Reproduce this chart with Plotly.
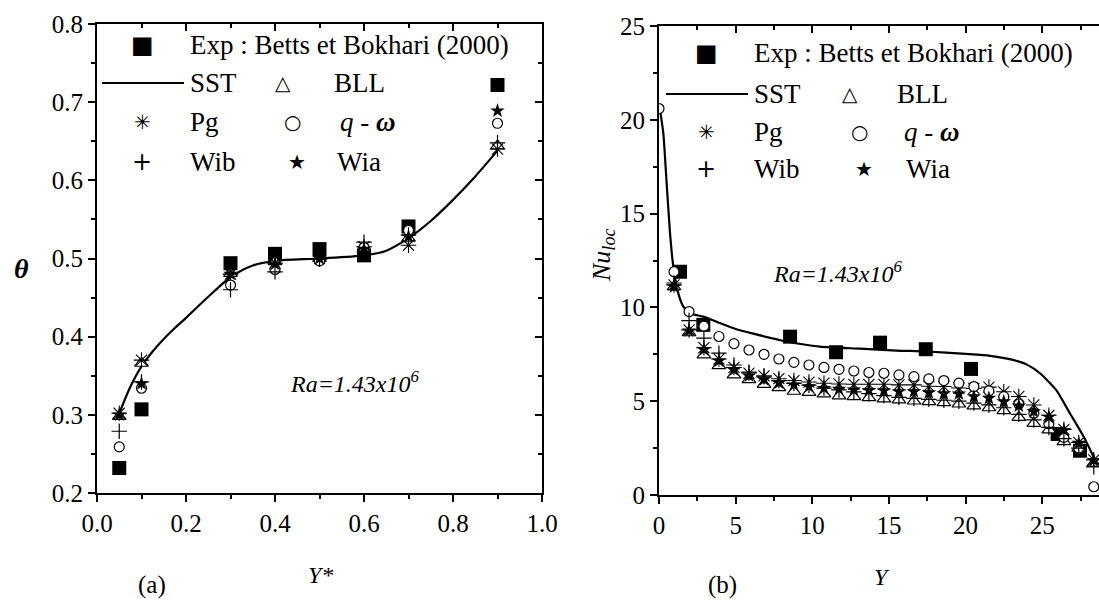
import plotly.graph_objects as go

# ---------------- Panel (a) data ----------------
ystar = [0.05, 0.1, 0.3, 0.4, 0.5, 0.6, 0.7, 0.9]
theta_exp = [0.232, 0.307, 0.494, 0.506, 0.512, 0.504, 0.541, 0.722]
theta_bll = [0.298, 0.366, 0.481, 0.496, 0.500, 0.512, 0.526, 0.644]
theta_pg = [0.302, 0.370, 0.480, 0.494, 0.500, 0.515, 0.517, 0.640]
theta_qw = [0.259, 0.334, 0.466, 0.486, 0.497, 0.514, 0.536, 0.673]
theta_wib = [0.279, 0.342, 0.460, 0.483, 0.499, 0.521, 0.530, 0.648]
theta_wia = [0.300, 0.340, 0.480, 0.493, 0.500, 0.512, 0.528, 0.689]
sst_a_x = [0.05, 0.075, 0.1, 0.125, 0.15, 0.175, 0.2, 0.25, 0.3, 0.35, 0.4, 0.5, 0.6, 0.65, 0.7, 0.75, 0.8, 0.85, 0.9]
sst_a_y = [0.302, 0.336, 0.362, 0.381, 0.397, 0.411, 0.424, 0.451, 0.476, 0.491, 0.497, 0.500, 0.504, 0.510, 0.526, 0.548, 0.575, 0.605, 0.638]

# ---------------- Panel (b) data ----------------
yb = [0, 0.98, 1.96, 2.93, 3.91, 4.89, 5.87, 6.85, 7.82, 8.8, 9.78, 10.76, 11.74, 12.71, 13.69,
      14.67, 15.65, 16.63, 17.6, 18.58, 19.56, 20.54, 21.52, 22.49, 23.47, 24.45, 25.43, 26.41, 27.38, 28.36]
nu_bll = [None, 11.1, 8.65, 7.47, 6.9, 6.4, 6.15, 5.9, 5.72, 5.53, 5.47, 5.39, 5.28, 5.24, 5.19, 5.12,
          5.07, 5.01, 4.98, 4.92, 4.85, 4.75, 4.65, 4.5, 4.14, 3.82, 3.47, 2.84, 2.5, 1.7]
nu_pg = [None, 11.2, 8.8, 7.85, 7.25, 6.8, 6.5, 6.35, 6.2, 6.1, 6.02, 5.96, 5.92, 5.9, 5.9, 5.9,
         5.87, 5.87, 5.8, 5.78, 5.7, 5.68, 5.75, 5.5, 5.25, 4.8, 4.25, 3.5, 2.8, 1.87]
nu_qw = [20.6, 11.9, 9.78, 9.0, 8.45, 8.07, 7.73, 7.5, 7.25, 7.07, 6.93, 6.8, 6.7, 6.61, 6.53, 6.49,
         6.4, 6.31, 6.19, 6.1, 5.96, 5.78, 5.55, 5.24, 4.85, 4.36, 3.79, 3.07, 2.5, 0.44]
nu_wib = [None, 11.3, 9.3, 8.36, 7.56, 6.93, 6.55, 6.3, 6.1, 5.95, 5.85, 5.7, 5.6, 5.5, 5.4, 5.3,
          5.2, 5.15, 5.1, 5.05, 5.0, 4.9, 4.8, 4.65, 4.3, 4.0, 3.6, 3.0, 2.5, 1.5]
nu_wia = [None, 11.1, 8.75, 7.75, 7.15, 6.67, 6.35, 6.15, 5.98, 5.87, 5.78, 5.69, 5.65, 5.6, 5.58, 5.56,
          5.51, 5.51, 5.46, 5.4, 5.39, 5.24, 5.16, 4.98, 4.75, 4.45, 4.15, 3.45, 2.76, 1.85]
yb_exp = [1.37, 2.89, 8.55, 11.55, 14.42, 17.4, 20.35, 26.0, 27.46]
nu_exp = [11.9, 9.07, 8.44, 7.61, 8.12, 7.77, 6.72, 3.25, 2.36]
sst_b_x = [0.07, 0.28, 0.5, 0.72, 0.93, 1.26, 1.59, 2.02, 2.89, 3.76, 5.0, 6.15, 8.33, 10.5, 13.1,
           15.5, 17.46, 20.0, 21.6, 23.1, 24.0, 24.85, 25.9, 26.8, 27.7, 28.4]
sst_b_y = [20.5, 19.3, 16.6, 13.95, 12.2, 10.75, 10.04, 9.69, 9.51, 9.24, 8.85, 8.6, 8.18, 7.91, 7.8,
           7.7, 7.65, 7.52, 7.42, 7.2, 6.95, 6.49, 5.6, 4.36, 3.11, 1.95]

W, H = 1099, 601
SERIF = '"Liberation Serif", "Times New Roman", Times, serif'
SYM = '"DejaVu Sans", sans-serif'


def px(x):
    return x / W


def py(y):
    return 1 - y / H


fig = go.Figure()


def add_panel(xa, ya, xs, ys_list, exp_x, exp_y, sst_x, sst_y, smooth):
    fig.add_trace(go.Scatter(x=exp_x, y=exp_y, mode="markers", xaxis=xa, yaxis=ya,
                             marker=dict(symbol="square", size=14, color="black")))
    fig.add_trace(go.Scatter(x=sst_x, y=sst_y, mode="lines", xaxis=xa, yaxis=ya,
                             line=dict(color="black", width=2.2, shape="spline", smoothing=smooth)))
    bll, pg, qw, wib, wia = ys_list
    fig.add_trace(go.Scatter(x=xs, y=bll, mode="markers", xaxis=xa, yaxis=ya,
                             marker=dict(symbol="triangle-up", size=12, color="white",
                                         line=dict(color="black", width=1.2))))
    fig.add_trace(go.Scatter(x=xs, y=pg, mode="markers", xaxis=xa, yaxis=ya,
                             marker=dict(symbol="asterisk-open", size=13, color="black",
                                         line=dict(color="black", width=1.1))))
    fig.add_trace(go.Scatter(x=xs, y=qw, mode="markers", xaxis=xa, yaxis=ya,
                             marker=dict(symbol="circle", size=10, color="white",
                                         line=dict(color="black", width=1.2))))
    fig.add_trace(go.Scatter(x=xs, y=wib, mode="markers", xaxis=xa, yaxis=ya,
                             marker=dict(symbol="cross-thin-open", size=11, color="black",
                                         line=dict(color="black", width=1.2))))
    fig.add_trace(go.Scatter(x=xs, y=wia, mode="markers", xaxis=xa, yaxis=ya,
                             marker=dict(symbol="star", size=11, color="black",
                                         line=dict(width=0))))


add_panel("x", "y", ystar, [theta_bll, theta_pg, theta_qw, theta_wib, theta_wia],
          ystar, theta_exp, sst_a_x, sst_a_y, 0.8)
add_panel("x2", "y2", yb, [nu_bll, nu_pg, nu_qw, nu_wib, nu_wia],
          yb_exp, nu_exp, sst_b_x, sst_b_y, 0.6)

# dummy traces so mirrored (inside-tick) axes get drawn
fig.add_trace(go.Scatter(x=[None], y=[None], xaxis="x3", yaxis="y", mode="markers"))
fig.add_trace(go.Scatter(x=[None], y=[None], xaxis="x", yaxis="y3", mode="markers"))
fig.add_trace(go.Scatter(x=[None], y=[None], xaxis="x4", yaxis="y2", mode="markers"))

tickfont = dict(family=SERIF, size=25, color="black")
common = dict(showgrid=False, zeroline=False, showline=True, linecolor="black", linewidth=1.8,
              ticks="outside", ticklen=7, tickwidth=1.5, tickcolor="black", tickfont=tickfont,
              automargin=False)
minor = dict(ticks="outside", ticklen=4, tickwidth=1.5, tickcolor="black", showgrid=False)
mirror_common = dict(showticklabels=False, showgrid=False, zeroline=False, showline=True,
                     linecolor="black", linewidth=1.8, ticks="inside", ticklen=7, tickwidth=1.5,
                     tickcolor="black", automargin=False)
mminor = dict(ticks="inside", ticklen=4, tickwidth=1.5, tickcolor="black", showgrid=False)

xa_dom = [px(97), px(542)]
ya_dom = [py(493), py(24)]
xb_dom = [px(659), 1.0]
yb_dom = [py(495), py(26)]

fig.update_layout(
    template="none",
    width=W, height=H, margin=dict(l=0, r=0, t=0, b=0, autoexpand=False),
    paper_bgcolor="white", plot_bgcolor="white", showlegend=False,
    font=dict(family=SERIF, color="black"),
    xaxis=dict(domain=xa_dom, range=[0, 1.0], dtick=0.2, tick0=0, tickformat=".1f",
               anchor="y", minor=dict(dtick=0.1, **minor), **common),
    yaxis=dict(domain=ya_dom, range=[0.2, 0.8], dtick=0.1, tick0=0.2, tickformat=".1f",
               anchor="x", minor=dict(dtick=0.05, **minor), **common),
    xaxis2=dict(domain=xb_dom, range=[0, 28.7], dtick=5, tick0=0, anchor="y2",
                minor=dict(dtick=2.5, **minor), **common),
    yaxis2=dict(domain=yb_dom, range=[0, 25], dtick=5, tick0=0, anchor="x2",
                minor=dict(dtick=2.5, **minor), **common),
    xaxis3=dict(overlaying="x", side="top", anchor="y", range=[0, 1.0], dtick=0.2, tick0=0,
                minor=dict(dtick=0.1, **mminor), **mirror_common),
    yaxis3=dict(overlaying="y", side="right", anchor="x", range=[0.2, 0.8], dtick=0.1, tick0=0.2,
                minor=dict(dtick=0.05, **mminor), **mirror_common),
    xaxis4=dict(overlaying="x2", side="top", anchor="y2", range=[0, 28.7], dtick=5, tick0=0,
                minor=dict(dtick=2.5, **mminor), **mirror_common),
)

ann = []


def text(x, y, s, size=27, xanchor="left", angle=0, family=SERIF):
    ann.append(dict(x=px(x), y=py(y), xref="paper", yref="paper", text=s, showarrow=False,
                    xanchor=xanchor, yanchor="middle", textangle=angle,
                    font=dict(family=family, size=size, color="black")))


def legend(ox, rows, c2sym, c2txt):
    r0, r1, r2, r3 = rows
    text(ox + 45, r0, "■", size=24, xanchor="center", family=SYM)
    text(ox + 91, r0, "Exp : Betts et Bokhari (2000)")
    fig.add_shape(type="line", xref="paper", yref="paper", x0=px(ox + 5), x1=px(ox + 87),
                  y0=py(r1), y1=py(r1), line=dict(color="black", width=2))
    text(ox + 91, r1, "SST")
    text(c2sym, r1, "△", size=20, xanchor="center", family=SYM)
    text(c2txt[0], r1, "BLL")
    text(ox + 45, r2, "✳", size=20, xanchor="center", family=SYM)
    text(ox + 91, r2, "Pg")
    text(c2sym + 9, r2, "○", size=20, xanchor="center", family=SYM)
    text(c2txt[1], r2, "<i>q</i> - <b><i>ω</i></b>")
    text(ox + 45, r3, "+", size=24, xanchor="center", family=SYM)
    text(ox + 91, r3, "Wib")
    text(c2sym + 14, r3, "★", size=20, xanchor="center", family=SYM)
    text(c2txt[2], r3, "Wia")


legend(97, [45, 83, 122, 162], 283, [332, 338, 335])
legend(661, [53, 94, 132, 169], 850, [895, 902, 904])

text(355, 382, "<i>Ra=1.43x10<sup>6</sup></i>", size=24, xanchor="center")
text(838, 272, "<i>Ra=1.43x10<sup>6</sup></i>", size=24, xanchor="center")
text(21, 268, "<b><i>θ</i></b>", size=28, xanchor="center")
text(603, 255, "<i>Nu</i><sub><i>loc</i></sub>", size=26, xanchor="center", angle=-90)
text(320, 575, "<i>Y*</i>", size=24, xanchor="center")
text(882, 577, "<i>Y</i>", size=24, xanchor="center")
text(152, 585, "(a)", size=25, xanchor="center")
text(722, 585, "(b)", size=25, xanchor="center")

fig.update_layout(annotations=ann)
fig.write_html("out.html")
